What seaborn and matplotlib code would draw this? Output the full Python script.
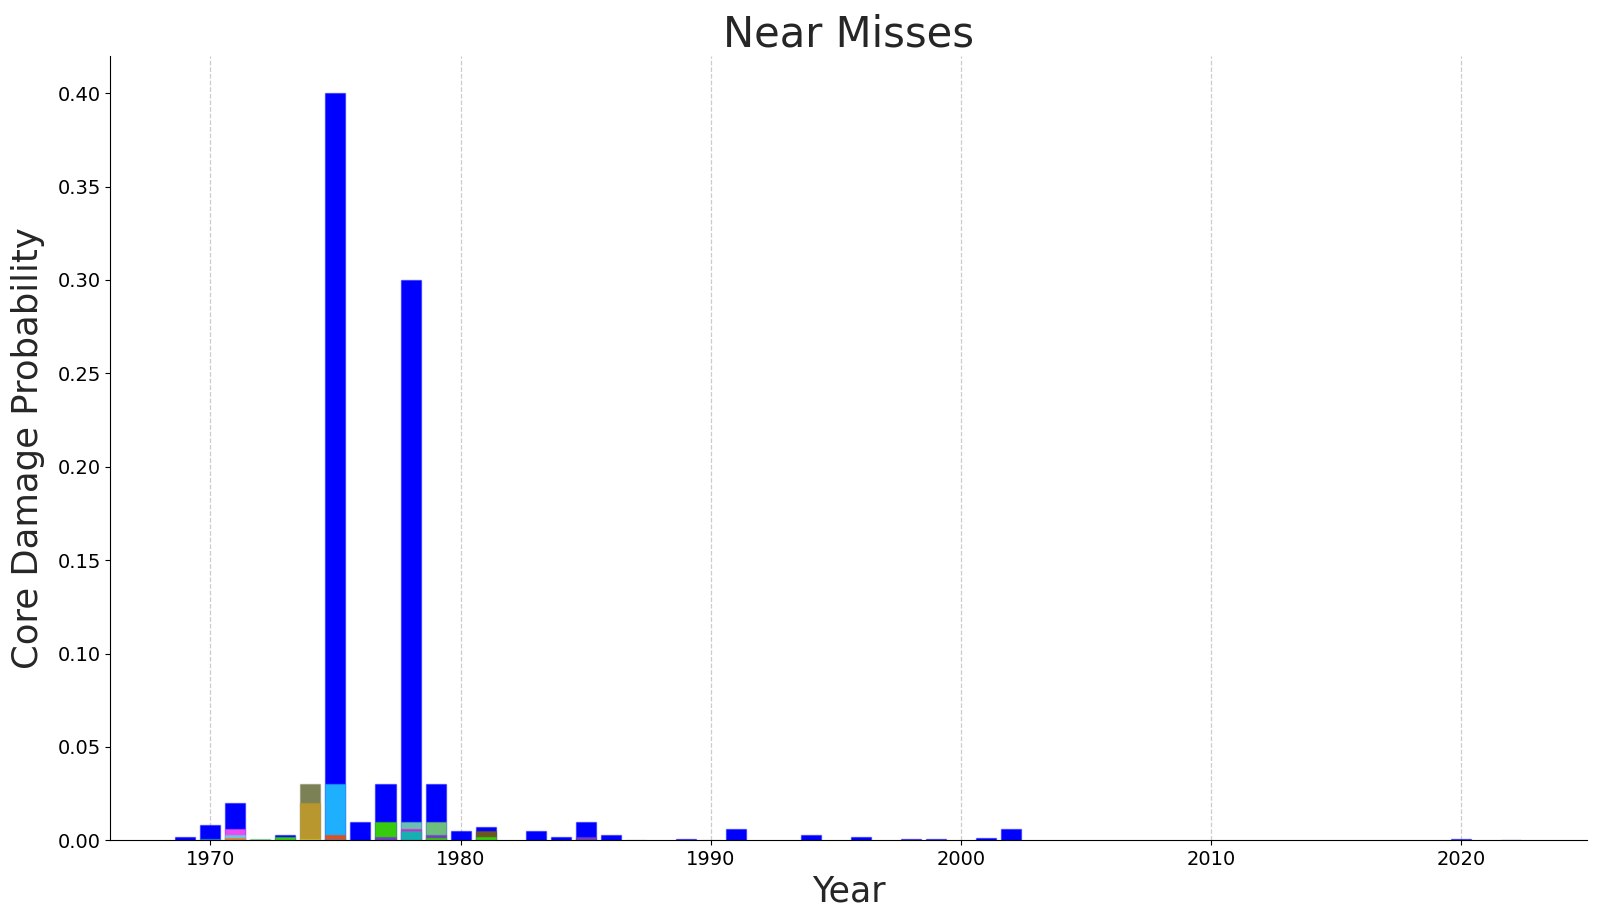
import numpy as np
import pandas as pd
import matplotlib
matplotlib.use("Agg")
import matplotlib.pyplot as plt
import seaborn as sns

# ---- data ----
# layer 1: total core damage probability per year (drawn first, tallest)
l1_years = [1969, 1970, 1971, 1973, 1975, 1976, 1977, 1978, 1979, 1980, 1981,
            1983, 1984, 1985, 1986, 1989, 1991, 1994, 1996, 1998, 1999, 2001,
            2002, 2020, 2022]
l1_vals = [0.002, 0.008, 0.020, 0.003, 0.400, 0.010, 0.030, 0.300, 0.030, 0.005,
           0.007, 0.005, 0.002, 0.010, 0.003, 0.0005, 0.006, 0.003, 0.002,
           0.0005, 0.0005, 0.0015, 0.006, 0.0005, 0.0001]
l1_cols = ["#0000FF"] * len(l1_years)

# layer 2: second event in year
l2_years = [1970, 1971, 1972, 1974, 1975, 1977, 1978, 1979, 1981, 1987, 1990]
l2_vals = [0.001, 0.006, 0.0005, 0.030, 0.030, 0.010, 0.010, 0.010, 0.005, 0.0004, 0.0003]
l2_cols = ["#20B2AA", "#E94CF0", "#6DBE7D", "#7B8055", "#1EB0FF", "#36CC0D",
           "#6ABFB3", "#6DBE7D", "#6B5520", "#D070D0", "#B8D870"]

# layer 3: third event in year
l3_years = [1971, 1973, 1974, 1975, 1977, 1978, 1979, 1981, 1985]
l3_vals = [0.003, 0.002, 0.020, 0.003, 0.002, 0.006, 0.003, 0.002, 0.002]
l3_cols = ["#6CC8E8", "#36CC0D", "#B8972F", "#E0501A", "#7040C0", "#E020D0",
           "#7040C0", "#36CC0D", "#7040C0"]

# layer 4: fourth event in year
l4_years = [1971, 1974, 1975, 1978, 1979]
l4_vals = [0.0015, 0.001, 0.001, 0.005, 0.0015]
l4_cols = ["#E0802A", "#D8C830", "#7080A0", "#17AFAF", "#36CC0D"]

layers = [(l1_years, l1_vals, l1_cols), (l2_years, l2_vals, l2_cols),
          (l3_years, l3_vals, l3_cols), (l4_years, l4_vals, l4_cols)]

all_years = list(range(1969, 2023))

sns.set_style("ticks")
plt.rcParams["font.family"] = ["DejaVu Sans"]

fig = plt.figure(figsize=(16, 9.22), dpi=100)
ax = fig.add_axes([0.069, 0.0885, 0.923, 0.851])

for yrs, vals, cols in layers:
    vmap = dict(zip(yrs, vals))
    cmap = dict(zip(yrs, cols))
    df = pd.DataFrame({
        "year": all_years,
        "cdp": [vmap.get(y, np.nan) for y in all_years],
        "color": [cmap.get(y, cols[0]) for y in all_years],
    })
    pal = {c: c for c in df["color"].unique()}
    sns.barplot(data=df, x="year", y="cdp", hue="color", palette=pal,
                dodge=False, native_scale=True, errorbar=None, legend=False,
                saturation=1, width=0.8, ax=ax)

for p in ax.patches:
    fc = p.get_facecolor()
    p.set_edgecolor((fc[0], fc[1], fc[2], 0.45))
    p.set_linewidth(1.0)

ax.set_xlim(1966.0, 2025.05)
ax.set_ylim(0, 0.42)
ax.set_xticks([1970, 1980, 1990, 2000, 2010, 2020])
ax.set_yticks(np.arange(0, 0.401, 0.05))
ax.yaxis.set_major_formatter(matplotlib.ticker.FormatStrFormatter("%.2f"))
ax.tick_params(labelsize=14, colors="black")
ax.xaxis.grid(True, linestyle="--", color="#cccccc", linewidth=0.9)
ax.yaxis.grid(False)
ax.set_axisbelow(True)
sns.despine(ax=ax)
for s in ["left", "bottom"]:
    ax.spines[s].set_color("black")

ax.set_title("Near Misses", fontsize=30, color="#262626")
ax.set_xlabel("Year", fontsize=25, color="#262626")
ax.set_ylabel("Core Damage Probability", fontsize=25.5, color="#262626", labelpad=9)

fig.savefig("out.png", dpi=100)
